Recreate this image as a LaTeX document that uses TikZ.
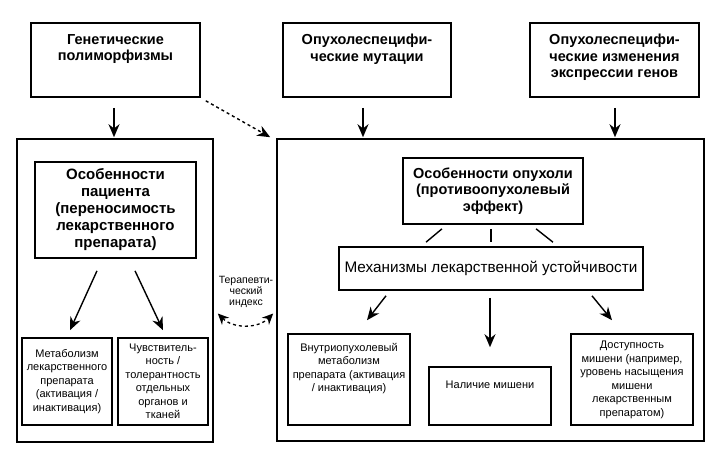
\documentclass[tikz,border=0pt]{standalone}
\usepackage{fontspec}
\setmainfont{Liberation Sans}
\usetikzlibrary{arrows.meta}
\begin{document}
\begin{tikzpicture}[x=1pt,y=-1pt,
 box/.style={draw,line width=1.6pt,inner sep=0pt},
 bt/.style={font=\bfseries\fontsize{14.5}{16.5}\selectfont,align=center,inner sep=0pt},
 pt/.style={font=\bfseries\fontsize{15}{17}\selectfont,align=center,inner sep=0pt},
 mt/.style={font=\fontsize{15.3}{17}\selectfont,align=center,inner sep=0pt},
 st/.style={font=\fontsize{11}{13.5}\selectfont,align=center,inner sep=0pt},
 tt/.style={font=\fontsize{10.5}{11}\selectfont,align=center,inner sep=0pt},
 arr/.style={-{Stealth[length=13pt,width=11pt]},line width=1.4pt},
 ln/.style={line width=1.4pt}]
\useasboundingbox (0,0) rectangle (721,456);
% top boxes
\node[box,minimum width=169pt,minimum height=74pt] (g) at (115.5,60) {};
\node[bt,anchor=north] (gt) at (115.5,34) {Генетические\\полиморфизмы};
\node[box,minimum width=168pt,minimum height=74pt] (m) at (367,60) {};
\node[bt,anchor=north] (mtx) at (367,34) {Опухолеспецифи-\\ческие мутации};
\node[box,minimum width=169pt,minimum height=74pt] (e) at (614.5,60) {};
\node[bt,anchor=north] (et) at (614.5,34) {Опухолеспецифи-\\ческие изменения\\экспрессии генов};
% big boxes
\node[box,minimum width=196pt,minimum height=303pt] (L) at (115,290.5) {};
\node[box,minimum width=427pt,minimum height=302pt] (R) at (490.5,290) {};
% top arrows
\draw[arr] ([shift={(-1.5,10)}]g.south) -- ([shift={(-1,-1)}]L.north);
\draw[arr] ([shift={(-4,10)}]m.south) -- ([shift={(-4,-1)}]m.south |- R.north);
\draw[arr] ([shift={(0.5,10)}]e.south) -- ([shift={(0.5,-1)}]e.south |- R.north);
\draw[arr,dashed] ([shift={(5,3)}]g.south east) -- ([shift={(-6,-1)}]R.north west);
% left content
\node[box,pt,minimum width=161pt,minimum height=96pt] (P) at (115.5,210) {Особенности\\пациента\\(переносимость\\лекарственного\\препарата)};
\node[box,st,minimum width=90pt,minimum height=87pt] (M1) at (67,381.5) {Метаболизм\\лекарственного\\препарата\\(активация /\\инактивация)};
\node[box,st,minimum width=90pt,minimum height=87pt] (T1) at (163,381.5) {Чувствитель-\\ность /\\толерантность\\отдельных\\органов и\\тканей};
\draw[arr] ([shift={(-18.5,12)}]P.south) -- ([shift={(3,-7)}]M1.north);
\draw[arr] ([shift={(19.5,12)}]P.south) -- ([shift={(0,-7)}]T1.north);
% right content
\node[box,bt,minimum width=180pt,minimum height=66pt] (O) at (493,191) {Особенности опухоли\\(противоопухолевый\\эффект)};
\node[box,mt,minimum width=304pt,minimum height=43pt] (Me) at (491,268.5) {Механизмы лекарственной устойчивости};
\draw[ln] ([shift={(-51,4)}]O.south) -- ([shift={(-65,-4)}]Me.north);
\draw[ln] ([shift={(-2,4)}]O.south) -- ([shift={(0,-4)}]Me.north);
\draw[ln] ([shift={(43,4)}]O.south) -- ([shift={(62,-4)}]Me.north);
\node[box,minimum width=122pt,minimum height=91pt] (I) at (349,379.5) {};
\node[st,anchor=north] (It) at (349,343) {Внутриопухолевый\\метаболизм\\препарата (активация\\/ инактивация)};
\node[box,minimum width=122pt,minimum height=58pt] (N) at (490,396) {};
\node[st,anchor=north] (Nt) at (490,381) {Наличие мишени};
\node[box,minimum width=122pt,minimum height=91pt] (D) at (632,379.5) {};
\node[st,anchor=north] (Dt) at (632,341) {Доступность\\мишени (например,\\уровень насыщения\\мишени\\лекарственным\\препаратом)};
\draw[arr] ([shift={(-105,5)}]Me.south) -- ([shift={(18,-13)}]I.north);
\draw[arr] ([shift={(-1,7)}]Me.south) -- ([shift={(0,-19)}]N.north);
\draw[arr] ([shift={(101,5)}]Me.south) -- ([shift={(-20,-13)}]D.north);
% therapeutic index
\node[tt,anchor=north] (ti) at (246,276) {Терапевти-\\ческий\\индекс};
\draw[dashed,line width=1.3pt,{Stealth[length=11pt,width=10pt]}-{Stealth[length=11pt,width=10pt]}] ([shift={(4,23)}]L.east) to[bend right=45] ([shift={(-3,23.5)}]R.west);
\end{tikzpicture}
\end{document}
